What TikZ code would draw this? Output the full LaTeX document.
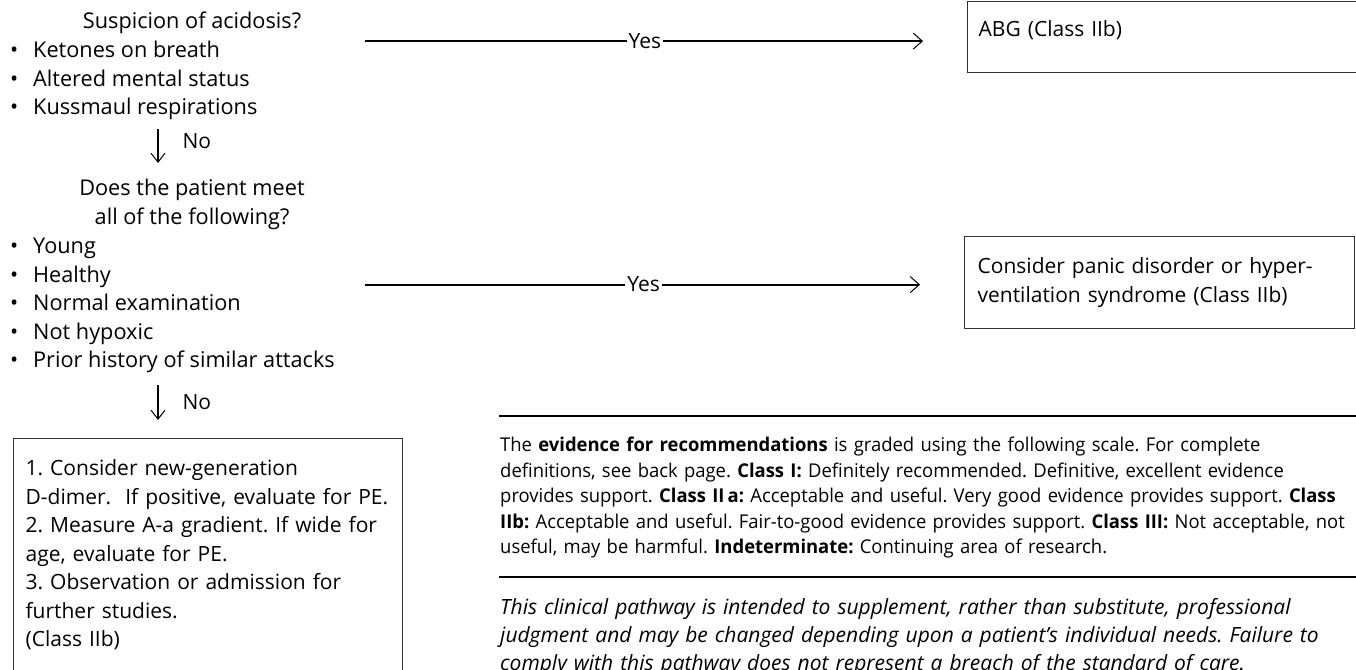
\documentclass[tikz,border=0pt]{standalone}
\usepackage{fontspec}
\setmainfont{Open Sans}
\newfontfamily\condfont[FakeStretch=0.97]{Open Sans}
\usetikzlibrary{arrows.meta,positioning}
\frenchspacing

\tikzset{
  every node/.style={font=\fontsize{21}{28.5}\selectfont},
  head/.style={inner sep=0pt, align=center, font=\fontsize{21.7}{28.5}\selectfont},
  blist/.style={inner sep=0pt, align=left, font=\fontsize{21.7}{28.5}\selectfont},
  outbox/.style={draw=black!80, line width=1.2pt, anchor=north west, align=left},
  yesarrow/.style={line width=2pt, -{Straight Barb[length=9pt,width=16pt,line width=1pt]}, shorten >=44pt},
  noarrow/.style={line width=1.1pt, -{Straight Barb[length=9pt,width=14pt,line width=1pt]}},
  lbl/.style={inner sep=2pt, fill=white},
  rule/.style={line width=1.2pt}
}
\newcommand\blt{\makebox[24pt][l]{\hspace{1pt}\textbullet}}

\begin{document}
\begin{tikzpicture}[x=1pt,y=-1pt]
    \useasboundingbox (0,0) rectangle (1356,669);

    % First question
    \node[head, anchor=base] (acidq) at (192,29) {Suspicion of acidosis?};
    \node[blist, anchor=north west] (acidlist) at (9,41)
        {\blt Ketones on breath\\ \blt Altered mental status\\ \blt Kussmaul respirations};

    % Second question
    \node[head, anchor=north] (healthq) at (192,179) {Does the patient meet\\all of the following?};
    \node[blist, anchor=north west] (healthlist) at (9,238)
        {\blt Young\\ \blt Healthy\\ \blt Normal examination\\ \blt Not hypoxic\\ \blt Prior history of similar attacks};

    % Outcome boxes
    \node[outbox, text width=380pt, inner xsep=11pt, inner ysep=5pt, text height=30pt, text depth=31pt] (abg) at (967,1) {ABG (Class IIb)};
    \node[outbox, text width=364pt, inner xsep=13pt, minimum height=92pt] (panic) at (964,236)
        {Consider panic disorder or hyper-\\ventilation syndrome (Class IIb)};
    \node[outbox, text width=365pt, inner xsep=12pt, inner ysep=21pt] (workup) at (13,438)
        {1. Consider new-generation\\D-dimer.\ \ If positive, evaluate for PE.\\2. Measure A-a gradient. If wide for\\age, evaluate for PE.\\3. Observation or admission for\\further studies.\\(Class IIb)};

    % Connectors
    \coordinate (spine) at (158,0);
    \coordinate (yesx) at (365,0);
    \coordinate (abgin) at ([yshift=-4pt]abg.west);
    \coordinate (panicin) at ([yshift=-2pt]panic.west);

    \draw[yesarrow] (abgin -| yesx) -- node[lbl, pos=0.465] {Yes} (abgin);
    \draw[yesarrow] (panicin -| yesx) -- node[lbl, pos=0.465] {Yes} (panicin);
    \draw[noarrow, shorten <=9pt, shorten >=16pt] (acidlist.south -| spine)
        -- node[pos=0.35, right=24pt, inner sep=0pt] {No} (healthq.north -| spine);
    \draw[noarrow, shorten <=12pt, shorten >=18pt] (healthlist.south -| spine)
        -- node[pos=0.45, right=24pt, inner sep=0pt] {No} (workup.north -| spine);

    % Notes
    \draw[rule] (499,416) -- (1356,416);
    \draw[rule] (499,577) -- (1356,577);
    \node[anchor=north west, inner sep=0pt, text width=860pt, align=left,
          font=\condfont\fontsize{19}{25.5}\selectfont] (evid) at (500,437)
        {The \textbf{evidence for recommendations} is graded using the following scale. For complete\\
         definitions, see back page. \textbf{Class I:} Definitely recommended. Definitive, excellent evidence\\
         provides support. \textbf{Class II\,a:} Acceptable and useful. Very good evidence provides support. \textbf{Class}\\
         \textbf{IIb:} Acceptable and useful. Fair-to-good evidence provides support. \textbf{Class III:} Not acceptable, not\\
         useful, may be harmful. \textbf{Indeterminate:} Continuing area of research.};
    \node[anchor=north west, inner sep=0pt, text width=860pt, align=left,
          font=\itshape\fontsize{21}{28}\selectfont] (disclaim) at (500,598)
        {This clinical pathway is intended to supplement, rather than substitute, professional\\
         judgment and may be changed depending upon a patient’s individual needs. Failure to\\
         comply with this pathway does not represent a breach of the standard of care.};
\end{tikzpicture}
\end{document}
